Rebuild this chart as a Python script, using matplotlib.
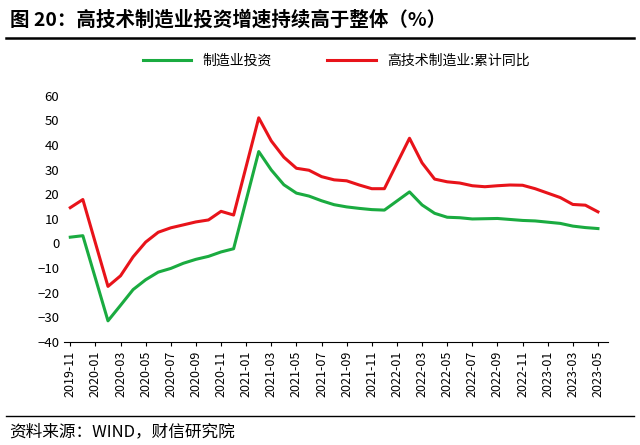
import matplotlib
matplotlib.use("Agg")
import matplotlib.pyplot as plt
import pandas as pd

plt.rcParams['font.family'] = ['Noto Sans CJK SC', 'DejaVu Sans']

months = ["2019-11","2019-12",
          "2020-02","2020-03","2020-04","2020-05","2020-06","2020-07","2020-08","2020-09","2020-10","2020-11","2020-12",
          "2021-02","2021-03","2021-04","2021-05","2021-06","2021-07","2021-08","2021-09","2021-10","2021-11","2021-12",
          "2022-02","2022-03","2022-04","2022-05","2022-06","2022-07","2022-08","2022-09","2022-10","2022-11","2022-12",
          "2023-02","2023-03","2023-04","2023-05"]
manuf = [2.5,3.1,
         -31.5,-25.2,-18.8,-14.8,-11.7,-10.2,-8.1,-6.5,-5.3,-3.5,-2.2,
         37.3,29.8,23.8,20.4,19.2,17.3,15.7,14.8,14.2,13.7,13.5,
         20.9,15.6,12.2,10.6,10.4,9.9,10.0,10.1,9.7,9.3,9.1,
         8.1,7.0,6.4,6.0]
hitech = [14.5,17.8,
          -17.5,-13.2,-5.5,0.5,4.5,6.3,7.5,8.7,9.5,13.0,11.5,
          51.0,41.6,35.0,30.5,29.7,27.1,25.8,25.4,23.7,22.2,22.2,
          42.7,32.7,26.1,25.0,24.5,23.4,23.0,23.4,23.7,23.6,22.2,
          18.6,15.8,15.5,12.8]
tick_labels = ["2019-11","2020-01","2020-03","2020-05","2020-07","2020-09","2020-11",
               "2021-01","2021-03","2021-05","2021-07","2021-09","2021-11",
               "2022-01","2022-03","2022-05","2022-07","2022-09","2022-11",
               "2023-01","2023-03","2023-05"]

def idx(m):
    d = pd.Period(m, 'M') - pd.Period("2019-11", 'M')
    return d.n
x = [idx(m) for m in months]

fig = plt.figure(figsize=(6.4, 4.45), dpi=100)
ax = fig.add_axes([0.1, 0.232, 0.85, 0.553])
ax.plot(x, manuf, color='#1aab40', lw=2.2, label='制造业投资')
ax.plot(x, hitech, color='#e8131a', lw=2.2, label='高技术制造业:累计同比')
ax.set_ylim(-40, 60)
ax.set_yticks(range(-40, 61, 10))
ax.set_xlim(-0.5, idx("2023-05") + 0.8)
ax.set_xticks([idx(t) for t in tick_labels])
ax.set_xticklabels(tick_labels, rotation=90, fontsize=9)
ax.tick_params(axis='y', labelsize=9.5, length=0)
ax.tick_params(axis='x', length=3)
for s in ['top', 'right']:
    ax.spines[s].set_visible(False)
ax.spines['left'].set_visible(False)
ax.legend(loc='upper center', bbox_to_anchor=(0.5, 1.22), ncol=2, frameon=False, fontsize=10, handlelength=3.5, columnspacing=4)

fig.text(0.015, 0.955, "图 20：高技术制造业投资增速持续高于整体（%）", fontsize=14, fontweight='bold', va='center')
fig.add_artist(plt.Line2D([0.01, 0.99], [0.915, 0.915], color='black', lw=1.8))
fig.add_artist(plt.Line2D([0.01, 0.99], [0.065, 0.065], color='black', lw=1.0))
fig.text(0.015, 0.03, "资料来源：WIND，财信研究院", fontsize=12, style='italic', va='center')
fig.savefig("out.png", dpi=100)
